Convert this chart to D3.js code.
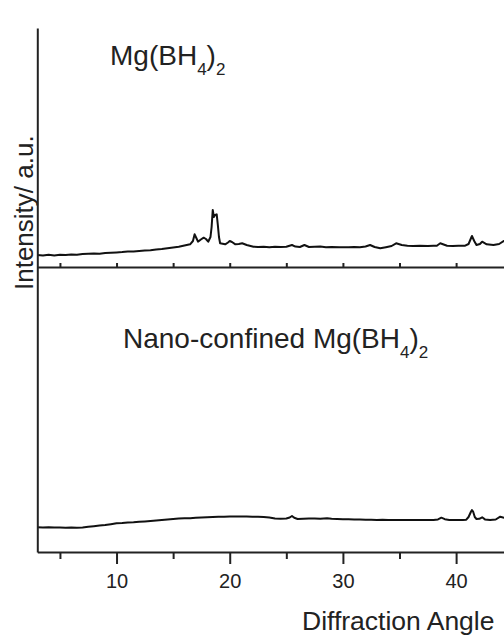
<!DOCTYPE html>
<html>
<head>
<meta charset="utf-8">
<script src="https://cdn.jsdelivr.net/npm/d3@7"></script>
<style>
  body { margin: 0; background: #fff; overflow: hidden; }
  svg { display: block; }
  text { font-family: "Liberation Sans", Arial, sans-serif; fill: #222; }
</style>
</head>
<body>
<div id="my_dataviz"></div>
<script>
// pattern of pure Mg(BH4)2 (top panel), arbitrary units
var angleTop = [3,3.5,4,4.5,5,5.5,6,6.5,7,7.5,8,8.5,9,9.5,10,10.5,11,11.5,12,12.5,13,13.5,14,14.5,15,15.5,16,16.5,16.75,16.9,17.05,17.2,17.45,17.7,17.9,18.1,18.3,18.4,18.5,18.6,18.7,18.85,18.95,19.05,19.15,19.6,19.85,20,20.2,20.5,20.8,21.1,21.5,22.1,22.5,23,23.5,24,24.5,25,25.5,25.8,26.2,26.6,27,27.5,28,28.5,29,29.7,30.5,31,31.5,32,32.4,32.8,33.3,33.8,34.3,34.7,35.2,35.7,36.2,36.8,37.5,38,38.3,38.6,39.2,39.7,40.2,40.8,41.1,41.4,41.6,41.8,42.1,42.3,42.7,43.3,43.8,44.2,44.6,45];
var intensityTop = [12,11.5,12.3,11.6,12.2,12,12.6,12.3,13,13.2,13.5,13.3,14,14.3,14.6,15,15.6,15.4,16,16.4,16.8,17.5,18,18.8,19.5,20.3,21.5,22.7,26,32.7,29,25.3,27.5,29.3,28,25.3,30,40,57,50,52,52.7,42,30,23.7,22.7,24.5,26,25,22.7,23,23.7,22,20.3,20,20.3,19.8,20.3,20,20.2,22,20.4,20,22,20,20.3,20.5,19.8,20,19.7,19.7,20,19.7,20.5,22,20,18.7,19.8,21,23.7,22,21.3,21,21.3,21,21.3,21.3,23.7,21.3,21,21.2,21.3,23,31,26,22,23,25.3,22.7,22,23,26,24,25];

// pattern of nano-confined Mg(BH4)2 (bottom panel), arbitrary units
var angleBot = [3,3.5,4,4.5,5,5.5,6,6.5,7,7.5,8,8.5,9,9.5,10,10.5,11,11.5,12,12.5,13,13.5,14,14.5,15,15.5,16,16.5,17,17.5,18,18.5,19,19.5,20,20.5,21,21.5,22,22.5,23,23.5,24,24.5,25,25.3,25.5,25.7,26,26.5,27,27.5,28,28.6,29,29.5,30,30.5,31,31.5,32,32.5,33,33.5,34,34.5,35,35.5,36,36.5,37,37.5,38,38.4,38.7,39,39.4,39.8,40.2,40.6,40.9,41.1,41.3,41.4,41.5,41.65,41.8,42.05,42.3,42.55,43,43.5,43.9,44.3,45];
var intensityBot = [24.7,24.5,24.8,24.4,24.6,24.3,24.5,24.3,24.6,25.2,25.8,26.4,27,27.8,28.7,29,29.5,29.8,30.3,30.6,31,31.5,32,32.6,33,33.4,33.7,33.8,34.2,34.5,34.8,35,35.2,35.3,35.6,35.5,35.4,35.5,35.3,35.3,35,34.5,33.5,33.2,33.5,34.5,36,34.2,33,33.2,33.4,33.5,33.3,33.7,33.2,33,32.8,32.8,32.6,32.5,32.3,32.2,32.1,32.2,32.1,32,32,32,32,32,32,32.1,32,32.6,34.3,32.8,32,31.9,32,32,32.3,35,40,42,40.5,35,33,33.2,34.7,32.6,32,32.5,35.3,34,34];

var majorTicks = [10, 20, 30, 40];
var minorTicks = [5, 15, 25, 35, 45];
var allTicks = [5, 10, 15, 20, 25, 30, 35, 40, 45];

var W = 504, H = 635;

var svg = d3.select("#my_dataviz")
  .append("svg")
    .attr("width", W)
    .attr("height", H);

// x scale (shared by both panels, right side is cut by the window)
var x = d3.scaleLinear()
  .domain([3, 45])
  .range([37.3, 512.7]);

// y scales, one per panel
var yTop = d3.scaleLinear().domain([0, 240]).range([267, 27]);
var yBot = d3.scaleLinear().domain([0, 285]).range([552, 267]);

// spectra
var line = function(ys) {
  return d3.line()
    .x(function(d) { return x(d[0]); })
    .y(function(d) { return ys(d[1]); });
};
svg.append("path")
  .datum(d3.zip(angleTop, intensityTop))
  .attr("d", line(yTop))
  .attr("fill", "none")
  .attr("stroke", "#111")
  .attr("stroke-width", 2)
  .attr("stroke-linejoin", "round");
svg.append("path")
  .datum(d3.zip(angleBot, intensityBot))
  .attr("d", line(yBot))
  .attr("fill", "none")
  .attr("stroke", "#111")
  .attr("stroke-width", 2)
  .attr("stroke-linejoin", "round");

// bottom axis: major ticks with labels
var gx = svg.append("g")
  .attr("transform", "translate(0," + yBot(0) + ")")
  .call(d3.axisBottom(x).tickValues(majorTicks).tickSize(12).tickPadding(10).tickSizeOuter(0));
gx.selectAll("text")
  .style("font-size", "20px")
  .style("font-family", "'Liberation Sans', Arial, sans-serif")
  .attr("fill", "#222");
// minor ticks
svg.append("g")
  .attr("transform", "translate(0," + yBot(0) + ")")
  .call(d3.axisBottom(x).tickValues(minorTicks).tickSize(7).tickFormat("").tickSizeOuter(0))
  .select(".domain").remove();

// middle axis (bottom of top panel), small inward ticks
svg.append("g")
  .attr("transform", "translate(0," + yTop(0) + ")")
  .call(d3.axisTop(x).tickValues(allTicks).tickSize(4).tickFormat("").tickSizeOuter(0));

// left axis spanning both panels
svg.append("g")
  .attr("transform", "translate(" + x(3) + ",0)")
  .call(d3.axisLeft(yBot.copy().domain([0, 1]).range([552, 28])).tickValues([]).tickSizeOuter(0));

svg.selectAll(".domain").attr("stroke", "#222").attr("stroke-width", 2);
svg.selectAll(".tick line").attr("stroke", "#222").attr("stroke-width", 2);

// panel labels
function formula(xp, yp, prefix) {
  var t = svg.append("text")
    .attr("x", xp)
    .attr("y", yp)
    .style("font-size", "28px");
  t.append("tspan").text(prefix + "Mg(BH");
  t.append("tspan").attr("dy", 10).style("font-size", "17px").text("4");
  t.append("tspan").attr("dy", -10).text(")");
  t.append("tspan").attr("dy", 10).style("font-size", "17px").text("2");
}
formula(110, 65, "");
formula(123, 348, "Nano-confined ");

// axis titles
svg.append("text")
  .attr("transform", "translate(33,290) rotate(-90)")
  .attr("text-anchor", "start")
  .style("font-size", "26px")
  .text("Intensity/ a.u.");

svg.append("text")
  .attr("x", 302)
  .attr("y", 630)
  .style("font-size", "26.5px")
  .text("Diffraction Angle");
</script>
</body>
</html>
